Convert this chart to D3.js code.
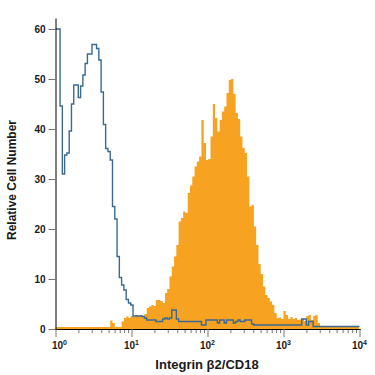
<!DOCTYPE html>
<html>
<head>
<meta charset="utf-8">
<script src="https://cdn.jsdelivr.net/npm/d3@7"></script>
<style>
  body { margin: 0; background: #fff; }
  text { font-family: "Liberation Sans Narrow", "Liberation Sans", sans-serif; font-weight: bold; fill: #1a1a1a; }
</style>
</head>
<body>
<div id="chart"></div>
<script>
// histogram bins: each bin is 0.03 decades wide, starting at 10^0
var binWidth = 0.03;

// isotype control (blue outline)
var isotypeCounts = [
  60, 60, 44.6, 31, 34.8, 35.2, 39.6, 45, 48.8, 48.8,
  46.3, 48.6, 50.8, 53.1, 55, 55, 56.9, 56.9, 56.1, 53.8,
  47.4, 40.9, 36.1, 35.5, 33.8, 24.5, 22, 14.5, 10.3, 8.8,
  7.8, 5.9, 5.2, 4.8, 2.6, 2.6, 2.6, 2.6, 2.5, 2.2,
  1.8, 1.8, 1.8, 1.8, 1.5, 1.5, 1.5, 2.0, 2.2, 2.0,
  2.2, 3.8, 3.8, 2.0, 1.5, 1.5, 1.5, 1.5, 1.5, 1.5,
  1.5, 1.5, 1.5, 1.5, 0.8, 0.8, 1.8, 1.8, 1.8, 1.8,
  1.8, 1.2, 1.8, 1.8, 1.2, 1.8, 1.8, 1.8, 1.2, 1.5,
  1.8, 1.5, 1.5, 1.8, 1.8, 1.8, 1.0, 0.8, 0.8, 0.8,
  0.8, 0.8, 0.8, 0.8, 0.8, 0.8, 0.8, 0.8, 0.8, 0.8,
  0.8, 0.8, 0.8, 0.8, 0.8, 0.8, 0.8, 0.8, 2.0, 2.0,
  0.8, 1.5, 1.5, 0.5, 0.5, 0.5, 0.5, 0.5, 0.5, 0.5,
  0.5, 0.5, 0.5, 0.5, 0.5, 0.5, 0.5, 0.5, 0.5, 0.5,
  0.5, 0.5, 0.5
];

// Integrin beta2 / CD18 stained (orange fill)
var cd18Counts = [
  0.4, 0.4, 0.4, 0.4, 0.4, 0.4, 0.4, 0.4, 0.4, 0.4,
  0.4, 0.4, 0.4, 0.4, 0.4, 0.4, 0.4, 0.4, 0.4, 0.4,
  0.4, 0.4, 0.4, 0.4, 1.7, 1.2, 0.4, 0.4, 0.4, 1.5,
  2.2, 2.5, 2.2, 2.6, 2.4, 2.8, 2.6, 2.8, 2.6, 3.0,
  4.2, 4.5, 4.8, 4.6, 5.8, 5.8, 5.6, 5.2, 7.2, 8.0,
  10.5, 12.5, 14.5, 16.8, 21.5, 22.2, 23.5, 23.2, 27.2, 28.7,
  30.5, 32.5, 33.5, 34.5, 41.8, 37.2, 33.8, 34.0, 38.5, 45.0,
  42.2, 39.5, 41.8, 43.5, 44.5, 47.2, 49.8, 50.0, 47.0, 43.2,
  42.0, 38.5, 36.2, 35.2, 30.5, 24.5, 24.8, 20.5, 16.8, 13.0,
  11.0, 8.5, 6.8, 6.2, 5.5, 4.8, 3.2, 2.2, 2.3, 2.0,
  3.6, 2.8, 2.0, 2.4, 2.0, 2.2, 1.8, 1.9, 2.0, 1.6,
  2.6, 2.8, 1.8, 2.6, 2.8, 1.2, 0.4, 0.4, 0.4, 0.4,
  0.4, 0.4, 0.4, 0.4, 0.4, 0.4, 0.4, 0.4, 0.4, 0.4,
  0.4, 0.4, 0.4
];

var yTicks = [0, 10, 20, 30, 40, 50, 60];
var xDecades = [1, 10, 100, 1000, 10000];
var xLabel = 'Integrin \u03B22/CD18';
var yLabel = 'Relative Cell Number';

var width = 375, height = 375;

var svg = d3.select('#chart').append('svg')
    .attr('width', width)
    .attr('height', height);

var x = d3.scaleLog()
    .domain([1, 10000])
    .range([55.5, 359.5]);

var y = d3.scaleLinear()
    .domain([0, 62.2])
    .range([329, 18]);

function toSteps(counts) {
    var pts = counts.map((c, i) => ({ v: Math.pow(10, i * binWidth), c: c }));
    pts.push({ v: Math.pow(10, counts.length * binWidth), c: counts[counts.length - 1] });
    return pts;
}

// orange filled histogram
var area = d3.area()
    .curve(d3.curveStepAfter)
    .x(d => x(d.v))
    .y0(y(0))
    .y1(d => y(d.c));

svg.append('path')
    .datum(toSteps(cd18Counts))
    .attr('d', area)
    .attr('fill', '#f7a220');

// blue outline histogram
var line = d3.line()
    .curve(d3.curveStepAfter)
    .x(d => x(d.v))
    .y(d => y(d.c));

var isoPts = toSteps(isotypeCounts);
isoPts.push({ v: 10000, c: isotypeCounts[isotypeCounts.length - 1] });

svg.append('path')
    .datum(isoPts)
    .attr('d', line)
    .attr('fill', 'none')
    .attr('stroke', '#3a6a92')
    .attr('stroke-width', 1.4);

// x axis: minor ticks
var minor = [];
xDecades.slice(0, -1).forEach(d => {
    for (var k = 2; k <= 9; k++) minor.push(d * k);
});

var xAxisMinor = d3.axisBottom(x)
    .tickValues(minor)
    .tickSize(4)
    .tickFormat('');

svg.append('g')
    .attr('class', 'xMinor')
    .attr('transform', 'translate(0,329)')
    .call(xAxisMinor)
    .call(g => g.select('.domain').remove())
    .call(g => g.selectAll('line').attr('stroke', '#777'));

var xAxis = d3.axisBottom(x)
    .tickValues(xDecades)
    .tickSize(8)
    .tickSizeOuter(0)
    .tickFormat('');

var gx = svg.append('g')
    .attr('class', 'xAxis')
    .attr('transform', 'translate(0,329)')
    .call(xAxis);
gx.selectAll('.tick line').attr('stroke', '#777');
gx.select('.domain').attr('stroke', '#000').attr('d', 'M55,0.5H361');

// decade labels 10^n
xDecades.forEach((d, i) => {
    var t = svg.append('text')
        .attr('x', x(d) + (i == 0 ? 4 : 0))
        .attr('y', 349)
        .attr('text-anchor', 'middle')
        .style('font-size', '10px');
    t.append('tspan').text('10');
    t.append('tspan')
        .attr('dy', -4)
        .style('font-size', '7px')
        .text(String(i));
});

// y axis
var yAxis = d3.axisLeft(y)
    .tickValues(yTicks)
    .tickSize(7)
    .tickSizeOuter(0)
    .tickPadding(3);

var gy = svg.append('g')
    .attr('class', 'yAxis')
    .attr('transform', 'translate(55.5,0)')
    .call(yAxis);
gy.select('.domain').attr('stroke', '#000');
gy.selectAll('.tick line').attr('stroke', '#777');
gy.selectAll('.tick text')
    .style('font-size', '10px')
    .style('font-family', '"Liberation Sans Narrow", "Liberation Sans", sans-serif')
    .style('font-weight', 'bold')
    .attr('fill', '#1a1a1a');

// axis titles
svg.append('text')
    .attr('x', 207)
    .attr('y', 369)
    .attr('text-anchor', 'middle')
    .style('font-size', '13px')
    .text(xLabel);

svg.append('text')
    .attr('transform', 'translate(16,180) rotate(-90)')
    .attr('text-anchor', 'middle')
    .style('font-size', '12px')
    .text(yLabel);
</script>
</body>
</html>
